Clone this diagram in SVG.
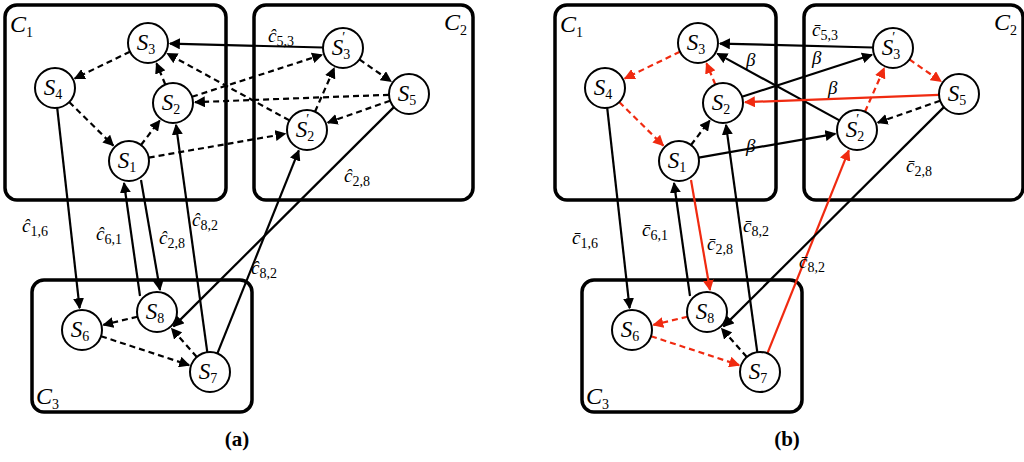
<svg xmlns="http://www.w3.org/2000/svg" width="1024" height="462" viewBox="0 0 1024 462">
<style>
.fr{fill:none;stroke:#000;stroke-width:3.5}
.nd circle{fill:#fff;stroke:#000;stroke-width:2}
.nt{font-family:"Liberation Serif",serif;font-style:italic;font-size:23px;text-anchor:middle}
.sb{font-size:14px;font-style:normal}
.lb{font-family:"Liberation Serif",serif;font-size:19px;font-style:italic}
.lb .s{font-size:14px;font-style:normal}
.cl{font-family:"Liberation Serif",serif;font-style:italic;font-size:24px}
.e{stroke:#000;stroke-width:2.2;fill:none;marker-end:url(#ab)}
.d{stroke-dasharray:6 4}
.r{stroke:#f02a10;marker-end:url(#ar)}
.cap{font-family:"Liberation Serif",serif;font-size:21px;font-weight:bold;text-anchor:middle}
</style>
<defs>
<marker id="ab" viewBox="0 0 10 10" refX="9" refY="5" markerWidth="5" markerHeight="5" orient="auto" markerUnits="strokeWidth"><path d="M0,0L10,5L0,10z" fill="#000"/></marker>
<marker id="ar" viewBox="0 0 10 10" refX="9" refY="5" markerWidth="5" markerHeight="5" orient="auto" markerUnits="strokeWidth"><path d="M0,0L10,5L0,10z" fill="#f02a10"/></marker>
</defs>
<rect width="1024" height="462" fill="#fff"/>

<!-- PANEL A -->
<g id="panelA">
<g id="frames-a">
<rect class="fr" x="5" y="5" width="221" height="195" rx="12"/>
<rect class="fr" x="254" y="5" width="219" height="195" rx="12"/>
<rect class="fr" x="32" y="280" width="220" height="132" rx="12"/>
<text class="cl" x="10" y="32">C<tspan class="sb" dy="5">1</tspan></text>
<text class="cl" x="444" y="30">C<tspan class="sb" dy="5">2</tspan></text>
<text class="cl" x="36" y="404">C<tspan class="sb" dy="5">3</tspan></text>
</g>
<g id="edges-a">
<line class="e d" x1="130" y1="51.7" x2="74.8" y2="78.4"/>
<line class="e d" x1="69.2" y1="102" x2="113.3" y2="145.6"/>
<line class="e d" x1="141" y1="145" x2="159.7" y2="120.5"/>
<line class="e d" x1="165.3" y1="84.5" x2="156.5" y2="63.3"/>
<line class="e d" x1="289.4" y1="120.4" x2="167.3" y2="53.6"/>
<line class="e d" x1="192" y1="96.8" x2="322" y2="54.8"/>
<line class="e d" x1="315" y1="111.7" x2="334.2" y2="68.1"/>
<line class="e d" x1="359.4" y1="59.4" x2="391" y2="81.4"/>
<line class="e d" x1="389" y1="94.8" x2="195" y2="102.2"/>
<line class="e d" x1="390.1" y1="100.7" x2="327.7" y2="122.7"/>
<line class="e d" x1="148.7" y1="157.6" x2="285.3" y2="133.8"/>
<line class="e d" x1="137.5" y1="316.7" x2="103.4" y2="324.9"/>
<line class="e d" x1="101" y1="336.2" x2="189.1" y2="365.1"/>
<line class="e d" x1="196.8" y1="357" x2="171.6" y2="328.5"/>
<line class="e" x1="323" y1="47.5" x2="170" y2="43.6"/>
<line class="e" x1="57.2" y1="107.9" x2="79.6" y2="308.1"/>
<line class="e" x1="140" y1="296" x2="124" y2="183"/>
<line class="e" x1="141" y1="180" x2="160" y2="290"/>
<line class="e" x1="207.3" y1="352.2" x2="176" y2="124.8"/>
<line class="e" x1="217.4" y1="353.4" x2="298.8" y2="150.4"/>
<line class="e" x1="393.9" y1="107.1" x2="173.6" y2="326.4"/>
</g>
<g id="labels-a">
<text class="lb" x="268" y="42">ĉ<tspan class="s" dy="4">5,3</tspan></text>
<text class="lb" x="22" y="232">ĉ<tspan class="s" dy="4">1,6</tspan></text>
<text class="lb" x="96" y="240">ĉ<tspan class="s" dy="4">6,1</tspan></text>
<text class="lb" x="159" y="244">ĉ<tspan class="s" dy="4">2,8</tspan></text>
<text class="lb" x="192" y="226">ĉ<tspan class="s" dy="4">8,2</tspan></text>
<text class="lb" x="251" y="274">ĉ<tspan class="s" dy="4">8,2</tspan></text>
<text class="lb" x="344" y="182">ĉ<tspan class="s" dy="4">2,8</tspan></text>
</g>
<g id="a-S3" class="nd"><circle cx="148" cy="43" r="20"/><text class="nt" x="146" y="50">S<tspan class="sb" dy="4">3</tspan></text></g>
<g id="a-S4" class="nd"><circle cx="55" cy="88" r="20"/><text class="nt" x="53" y="95">S<tspan class="sb" dy="4">4</tspan></text></g>
<g id="a-S2" class="nd"><circle cx="173" cy="103" r="20"/><text class="nt" x="171" y="110">S<tspan class="sb" dy="4">2</tspan></text></g>
<g id="a-S1" class="nd"><circle cx="129" cy="161" r="20"/><text class="nt" x="127" y="168">S<tspan class="sb" dy="4">1</tspan></text></g>
<g id="a-S3p" class="nd"><circle cx="343" cy="48" r="20"/><text class="nt" x="341" y="55">S<tspan class="sb" dy="4">3</tspan><tspan class="sb" dx="-8" dy="-17">′</tspan></text></g>
<g id="a-S5" class="nd"><circle cx="409" cy="94" r="20"/><text class="nt" x="407" y="101">S<tspan class="sb" dy="4">5</tspan></text></g>
<g id="a-S2p" class="nd"><circle cx="307" cy="130" r="20"/><text class="nt" x="305" y="137">S<tspan class="sb" dy="4">2</tspan><tspan class="sb" dx="-8" dy="-17">′</tspan></text></g>
<g id="a-S8" class="nd"><circle cx="157" cy="312" r="20"/><text class="nt" x="155" y="319">S<tspan class="sb" dy="4">8</tspan></text></g>
<g id="a-S6" class="nd"><circle cx="82" cy="330" r="20"/><text class="nt" x="80" y="337">S<tspan class="sb" dy="4">6</tspan></text></g>
<g id="a-S7" class="nd"><circle cx="210" cy="372" r="20"/><text class="nt" x="208" y="379">S<tspan class="sb" dy="4">7</tspan></text></g>
<text class="cap" x="237" y="446">(a)</text>
</g>

<!-- PANEL B -->
<g id="panelB" transform="translate(550,0)">
<g id="frames-b">
<rect class="fr" x="5" y="5" width="221" height="195" rx="12"/>
<rect class="fr" x="254" y="5" width="219" height="195" rx="12"/>
<rect class="fr" x="32" y="280" width="220" height="132" rx="12"/>
<text class="cl" x="10" y="32">C<tspan class="sb" dy="5">1</tspan></text>
<text class="cl" x="444" y="30">C<tspan class="sb" dy="5">2</tspan></text>
<text class="cl" x="36" y="404">C<tspan class="sb" dy="5">3</tspan></text>
</g>
<g id="edges-b">
<line class="e d r" x1="130" y1="51.7" x2="74.8" y2="78.4"/>
<line class="e d r" x1="69.2" y1="102" x2="113.3" y2="145.6"/>
<line class="e d" x1="141" y1="145" x2="159.7" y2="120.5"/>
<line class="e d r" x1="165.3" y1="84.5" x2="156.5" y2="63.3"/>
<line class="e" x1="289.4" y1="120.4" x2="167.3" y2="53.6"/>
<line class="e" x1="192" y1="96.8" x2="322" y2="54.8"/>
<line class="e d r" x1="315" y1="111.7" x2="334.2" y2="68.1"/>
<line class="e d r" x1="359.4" y1="59.4" x2="391" y2="81.4"/>
<line class="e r" x1="389" y1="94.8" x2="195" y2="102.2"/>
<line class="e d" x1="390.1" y1="100.7" x2="327.7" y2="122.7"/>
<line class="e" x1="148.7" y1="157.6" x2="285.3" y2="133.8"/>
<line class="e d r" x1="137.5" y1="316.7" x2="103.4" y2="324.9"/>
<line class="e d r" x1="101" y1="336.2" x2="189.1" y2="365.1"/>
<line class="e d" x1="196.8" y1="357" x2="171.6" y2="328.5"/>
<line class="e" x1="323" y1="47.5" x2="170" y2="43.6"/>
<line class="e" x1="57.2" y1="107.9" x2="79.6" y2="308.1"/>
<line class="e" x1="140" y1="296" x2="124" y2="183"/>
<line class="e r" x1="141" y1="180" x2="160" y2="290"/>
<line class="e" x1="207.3" y1="352.2" x2="176" y2="124.8"/>
<line class="e r" x1="217.4" y1="353.4" x2="298.8" y2="150.4"/>
<line class="e" x1="393.9" y1="107.1" x2="173.6" y2="326.4"/>
</g>
<g id="labels-b">
<text class="lb" x="262" y="36">c̄<tspan class="s" dy="4">5,3</tspan></text>
<text class="lb" x="196" y="66">β</text>
<text class="lb" x="262" y="64">β</text>
<text class="lb" x="278" y="94">β</text>
<text class="lb" x="196" y="152">β</text>
<text class="lb" x="22" y="244">c̄<tspan class="s" dy="4">1,6</tspan></text>
<text class="lb" x="92" y="236">c̄<tspan class="s" dy="4">6,1</tspan></text>
<text class="lb" x="157" y="250">c̄<tspan class="s" dy="4">2,8</tspan></text>
<text class="lb" x="193" y="232">c̄<tspan class="s" dy="4">8,2</tspan></text>
<text class="lb" x="249" y="268">c̄<tspan class="s" dy="4">8,2</tspan></text>
<text class="lb" x="356" y="172">c̄<tspan class="s" dy="4">2,8</tspan></text>
</g>
<g id="b-S3" class="nd"><circle cx="148" cy="43" r="20"/><text class="nt" x="146" y="50">S<tspan class="sb" dy="4">3</tspan></text></g>
<g id="b-S4" class="nd"><circle cx="55" cy="88" r="20"/><text class="nt" x="53" y="95">S<tspan class="sb" dy="4">4</tspan></text></g>
<g id="b-S2" class="nd"><circle cx="173" cy="103" r="20"/><text class="nt" x="171" y="110">S<tspan class="sb" dy="4">2</tspan></text></g>
<g id="b-S1" class="nd"><circle cx="129" cy="161" r="20"/><text class="nt" x="127" y="168">S<tspan class="sb" dy="4">1</tspan></text></g>
<g id="b-S3p" class="nd"><circle cx="343" cy="48" r="20"/><text class="nt" x="341" y="55">S<tspan class="sb" dy="4">3</tspan><tspan class="sb" dx="-8" dy="-17">′</tspan></text></g>
<g id="b-S5" class="nd"><circle cx="409" cy="94" r="20"/><text class="nt" x="407" y="101">S<tspan class="sb" dy="4">5</tspan></text></g>
<g id="b-S2p" class="nd"><circle cx="307" cy="130" r="20"/><text class="nt" x="305" y="137">S<tspan class="sb" dy="4">2</tspan><tspan class="sb" dx="-8" dy="-17">′</tspan></text></g>
<g id="b-S8" class="nd"><circle cx="157" cy="312" r="20"/><text class="nt" x="155" y="319">S<tspan class="sb" dy="4">8</tspan></text></g>
<g id="b-S6" class="nd"><circle cx="82" cy="330" r="20"/><text class="nt" x="80" y="337">S<tspan class="sb" dy="4">6</tspan></text></g>
<g id="b-S7" class="nd"><circle cx="210" cy="372" r="20"/><text class="nt" x="208" y="379">S<tspan class="sb" dy="4">7</tspan></text></g>
<text class="cap" x="237" y="446">(b)</text>
</g>
</svg>
